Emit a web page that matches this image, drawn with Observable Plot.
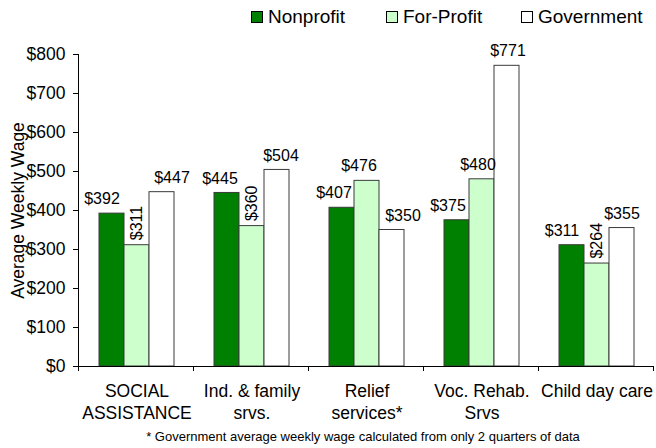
<!DOCTYPE html>
<html>
<head>
<meta charset="utf-8">
<script src="https://cdn.jsdelivr.net/npm/d3@7"></script>
<script src="https://cdn.jsdelivr.net/npm/@observablehq/plot@0.6"></script>
<style>
  html, body { margin: 0; padding: 0; background: #fff; }
  body { width: 656px; height: 448px; overflow: hidden; font-family: "Liberation Sans", Arial, sans-serif; color: #000; }
  #legend { height: 34px; display: flex; align-items: center; padding-left: 251px; box-sizing: border-box; font-size: 19px; }
  .item { width: 135px; display: flex; align-items: center; }
  .sw { width: 10px; height: 10px; border: 1px solid #000; margin-right: 5px; flex: none; }
  #foot { font-size: 13px; text-align: center; padding-left: 70px; height: 22px; line-height: 22px; }
  svg { display: block; overflow: visible; }
</style>
</head>
<body>
<div id="legend"></div>
<div id="chart"></div>
<div id="foot"></div>
<script>
const categories = ["SOCIAL\nASSISTANCE", "Ind. & family\nsrvs.", "Relief\nservices*", "Voc. Rehab.\nSrvs", "Child day care"];
const series = ["Nonprofit", "For-Profit", "Government"];
const nonprofit = [392, 445, 407, 375, 311];
const forProfit = [311, 360, 476, 480, 264];
const government = [447, 504, 350, 771, 355];
const yTicks = [0, 100, 200, 300, 400, 500, 600, 700, 800];
const footnote = "* Government average weekly wage calculated from only 2 quarters of data";

const colors = {"Nonprofit": "#008000", "For-Profit": "#ccffcc", "Government": "#ffffff"};
// label nudges (style only)
const labelDx = {"Nonprofit": [-10, -7, -8, -9, -10], "For-Profit": [0, 0, -8, -4, 0], "Government": [10, 4, 11, 1, 0]};

const valuesBySeries = [nonprofit, forProfit, government];
const rows = [];
categories.forEach((c, i) => series.forEach((s, j) => {
  rows.push({category: c, series: s, value: valuesBySeries[j][i], ci: i});
}));
// rotate the label when the For-Profit bar is shorter than the Nonprofit bar
const isRotated = d => d.series === "For-Profit" && d.value < nonprofit[d.ci];

const fmt = v => "$" + v;

const horiz = rows.filter(d => !isRotated(d));
const groups = d3.group(horiz, d => labelDx[d.series][d.ci]);
const textMarks = [...groups].map(([dx, data]) => Plot.text(data, {
  fx: "category", x: "series", y: "value", text: d => fmt(d.value),
  dx, dy: -14.5, fontSize: 16, fill: "#000", lineAnchor: "middle"
}));

const ML = 79;
const plot = Plot.plot({
  width: 656,
  height: 392,
  marginLeft: ML,
  marginRight: 2,
  marginTop: 20,
  marginBottom: 60,
  style: {fontFamily: "'Liberation Sans', Arial, sans-serif", fontSize: "17.5px", color: "#000", background: "#fff"},
  fx: {domain: categories, padding: 0},
  x: {domain: series, paddingInner: 0, paddingOuter: 0.746, axis: null},
  y: {domain: [0, 800], ticks: yTicks, tickFormat: fmt, tickSize: 6, tickPadding: 8, label: "Average Weekly Wage", labelAnchor: "center", labelArrow: "none", labelOffset: 68},
  marks: [
    Plot.axisFx({anchor: "bottom", tickSize: 0, tickPadding: 15, label: null, lineHeight: 1.25, fontSize: 17.5}),
    Plot.barY(rows, {fx: "category", x: "series", y: "value", fill: d => colors[d.series], stroke: "#3a3a3a", strokeWidth: 1}),
    Plot.ruleY([0], {stroke: "#000"}),
    ...textMarks,
    Plot.text(rows.filter(isRotated), {
      fx: "category", x: "series", y: "value", text: d => fmt(d.value),
      rotate: -90, textAnchor: "start", dy: -5, fontSize: 16, fill: "#000", lineAnchor: "middle"
    })
  ]
});
document.getElementById("chart").appendChild(plot);

// y-axis line and category boundary ticks, positioned from Plot's own scales
const svgEl = plot.tagName.toLowerCase() === "svg" ? plot : plot.querySelector("svg");
const fxS = plot.scale("fx");
const yS = plot.scale("y");
const y0 = yS.apply(yTicks[0]), yTop = yS.apply(yTicks[yTicks.length - 1]);
const step = fxS.step || fxS.bandwidth || 115;
let start = fxS.apply(categories[0]);
if (!(start >= ML - 1)) start = ML; // guard against facet-relative ranges
const bounds = categories.map((c, i) => start + i * step).concat([start + categories.length * step]);
const g = d3.select(svgEl).append("g");
g.append("line")
  .attr("x1", bounds[0] - 0.5).attr("x2", bounds[0] - 0.5)
  .attr("y1", yTop).attr("y2", y0 + 5)
  .attr("stroke", "#000").attr("stroke-width", 1);
bounds.slice(1).forEach(b => {
  g.append("line")
    .attr("x1", Math.round(b) - 0.5).attr("x2", Math.round(b) - 0.5)
    .attr("y1", y0).attr("y2", y0 + 5)
    .attr("stroke", "#000").attr("stroke-width", 1);
});

// legend
const leg = document.getElementById("legend");
series.forEach(s => {
  const it = document.createElement("div");
  it.className = "item";
  const sw = document.createElement("span");
  sw.className = "sw";
  sw.style.background = colors[s];
  it.appendChild(sw);
  it.appendChild(document.createTextNode(s));
  leg.appendChild(it);
});
document.getElementById("foot").textContent = footnote;
</script>
</body>
</html>
